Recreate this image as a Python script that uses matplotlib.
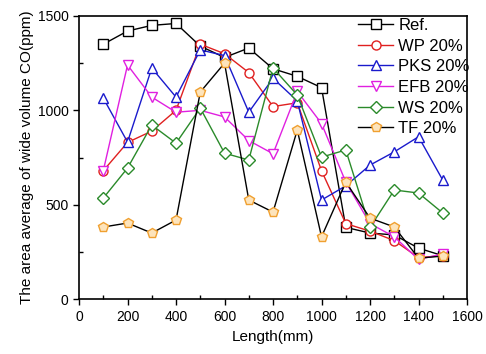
import matplotlib.pyplot as plt
from matplotlib.ticker import MultipleLocator

plt.rcParams['font.family'] = ['Liberation Sans', 'DejaVu Sans']

length = [100, 200, 300, 400, 500, 600, 700, 800, 900, 1000, 1100, 1200, 1300, 1400, 1500]

ref = [1350, 1420, 1450, 1460, 1340, 1280, 1330, 1220, 1180, 1120, 380, 350, 340, 270, 230]
wp = [680, 830, 890, 1000, 1350, 1300, 1200, 1020, 1040, 680, 400, 360, 310, 220, 230]
pks = [1065, 832, 1224, 1070, 1320, 1290, 990, 1170, 1050, 525, 600, 710, 780, 860, 630]
efb = [680, 1240, 1070, 990, 1000, 965, 840, 770, 1100, 930, 620, 400, 330, 210, 240]
ws = [535, 694, 922, 826, 1012, 773, 737, 1224, 1081, 752, 790, 380, 578, 562, 456]
tf = [382, 403, 350, 419, 1097, 1250, 525, 461, 896, 330, 620, 429, 382, 217, 228]

labels = ['Ref.', 'WP 20%', 'PKS 20%', 'EFB 20%', 'WS 20%', 'TF 20%']

fig = plt.figure(figsize=(4.86, 3.54), dpi=100)
ax = fig.add_axes([0.1626, 0.155, 0.7984, 0.80])

ms = 6.5
ax.plot(length, ref, '-s', color='black', mfc='white', mec='black', ms=ms, lw=1, label=labels[0])
ax.plot(length, wp, '-o', color='#e02020', mfc='white', mec='#e02020', ms=ms, lw=1, label=labels[1])
ax.plot(length, pks, '-^', color='#1a1acc', mfc='white', mec='#1a1acc', ms=ms + 0.5, lw=1, label=labels[2])
ax.plot(length, efb, '-v', color='#e020e0', mfc='white', mec='#e020e0', ms=ms + 0.5, lw=1, label=labels[3])
ax.plot(length, ws, '-D', color='#2a8a2a', mfc='white', mec='#2a8a2a', ms=ms - 0.5, lw=1, label=labels[4])
ax.plot(length, tf, '-p', color='black', mfc='#fde4bc', mec='#f0a030', ms=ms + 1, lw=1, label=labels[5])

ax.set_xlim(0, 1600)
ax.set_ylim(0, 1500)
ax.xaxis.set_major_locator(MultipleLocator(200))
ax.xaxis.set_minor_locator(MultipleLocator(100))
ax.yaxis.set_major_locator(MultipleLocator(500))
ax.yaxis.set_minor_locator(MultipleLocator(250))
ax.tick_params(which='major', direction='out', length=4, width=1, labelsize=10)
ax.tick_params(which='minor', direction='in', length=3, width=1)
for s in ax.spines.values():
    s.set_linewidth(1.2)

ax.set_xlabel('Length(mm)', fontsize=11, labelpad=5)
ax.set_ylabel('The area average of wide volume CO(ppm)', fontsize=11, labelpad=3)

ax.legend(loc='upper right', bbox_to_anchor=(1.015, 1.005), frameon=False,
          fontsize=12, handlelength=2.1, handletextpad=0.3, labelspacing=0.34,
          borderaxespad=0.0, borderpad=0.2)

fig.savefig('out.png', dpi=100)
plt.close(fig)
